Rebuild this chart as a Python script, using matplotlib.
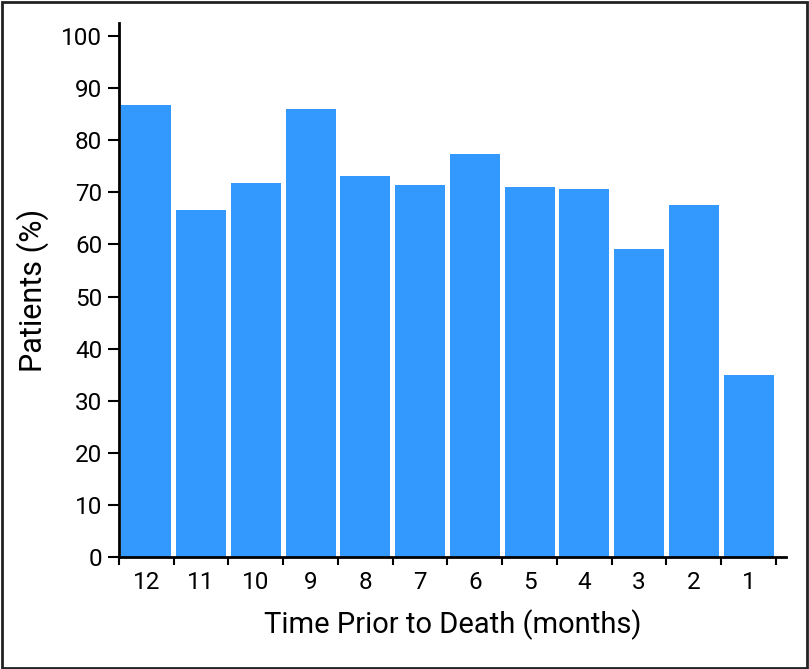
import matplotlib
matplotlib.use("Agg")
import matplotlib.pyplot as plt
import numpy as np

months = ["12", "11", "10", "9", "8", "7", "6", "5", "4", "3", "2", "1"]
patients_pct = [86.8, 66.7, 71.8, 86.0, 73.1, 71.4, 77.4, 71.0, 70.7, 59.1, 67.5, 34.9]
y_ticks = [0, 10, 20, 30, 40, 50, 60, 70, 80, 90, 100]

BAR_COLOR = "#3399FF"

plt.rcParams["font.family"] = ["Roboto", "DejaVu Sans"]

fig = plt.figure(figsize=(8.09, 6.69), dpi=100)
ax = fig.add_axes([119 / 809, 0.1674, (786 - 119) / 809, 0.9656 - 0.1674])

x = np.arange(len(months))
ax.bar(x, patients_pct, width=0.91, color=BAR_COLOR, linewidth=0)

ax.set_xlim(-0.5, len(months) - 0.5 + 10 / 54.67)
ax.set_ylim(0, 102.5)

# major ticks at bar boundaries, labels at bar centres
ax.set_xticks(np.arange(len(months) + 1) - 0.5)
ax.set_xticklabels([])
ax.set_xticks(x, minor=True)
ax.set_xticklabels(months, minor=True)
ax.tick_params(axis="x", which="minor", length=0, pad=10, labelsize=17.5)
ax.tick_params(axis="x", which="major", length=6, width=1.5, direction="out")

ax.set_yticks(y_ticks)
ax.tick_params(axis="y", length=8, width=1.5, pad=4, labelsize=17.5)

for side in ["top", "right"]:
    ax.spines[side].set_visible(False)
for side in ["left", "bottom"]:
    ax.spines[side].set_linewidth(2)

ax.set_xlabel("Time Prior to Death (months)", fontsize=21, labelpad=11)
ax.set_ylabel("Patients (%)", fontsize=22, labelpad=9)

# frame round the whole figure
fig.patches.append(plt.Rectangle((0.002, 0.002), 0.996, 0.995, transform=fig.transFigure,
                                 fill=False, edgecolor="#222222", linewidth=2))

fig.savefig("out.png", dpi=100)
